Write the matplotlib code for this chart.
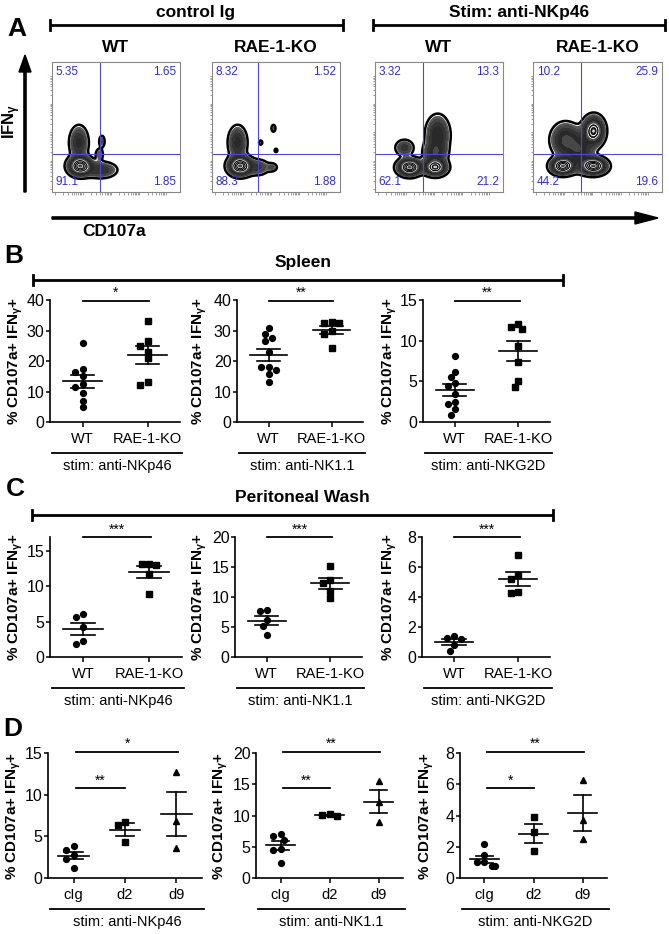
import numpy as np
import matplotlib
matplotlib.use('Agg')
import matplotlib.pyplot as plt
from matplotlib import rcParams

rcParams['font.family'] = ['Liberation Sans', 'DejaVu Sans']
rcParams['mathtext.fontset'] = 'custom'
rcParams['mathtext.rm'] = 'Liberation Sans:bold'
rcParams['mathtext.it'] = 'Liberation Sans:bold'
rcParams['mathtext.bf'] = 'Liberation Sans:bold'

W, H = 669, 934

#---------------------------
# Panel A: flow plots (quadrant %) and rough blob shapes of the populations
flow_titles = ['WT', 'RAE-1-KO', 'WT', 'RAE-1-KO']
flow_quads = [['5.35', '1.65', '91.1', '1.85'],
              ['8.32', '1.52', '88.3', '1.88'],
              ['3.32', '13.3', '62.1', '21.2'],
              ['10.2', '25.9', '44.2', '19.6']]
flow_gate_x = [0.377, 0.36, 0.377, 0.37]
flow_gate_y = 0.295
# (cx, cy, sx, sy, weight) in axis fraction
flow_blobs = [
    [(0.22, 0.20, 0.05, 0.04, 1.0), (0.21, 0.38, 0.04, 0.07, 0.35),
     (0.38, 0.17, 0.07, 0.035, 0.3), (0.39, 0.39, 0.015, 0.03, 0.14),
     (0.37, 0.29, 0.02, 0.03, 0.13)],
    [(0.22, 0.20, 0.05, 0.04, 1.0), (0.20, 0.38, 0.04, 0.07, 0.35),
     (0.36, 0.19, 0.05, 0.035, 0.22), (0.47, 0.19, 0.025, 0.02, 0.14),
     (0.48, 0.49, 0.012, 0.02, 0.12), (0.38, 0.38, 0.012, 0.015, 0.09),
     (0.50, 0.32, 0.01, 0.012, 0.09)],
    [(0.27, 0.19, 0.05, 0.035, 1.0), (0.47, 0.19, 0.05, 0.035, 0.8),
     (0.49, 0.44, 0.05, 0.08, 0.4), (0.47, 0.30, 0.05, 0.05, 0.35),
     (0.23, 0.34, 0.04, 0.035, 0.25)],
    [(0.23, 0.20, 0.05, 0.035, 0.9), (0.47, 0.20, 0.055, 0.035, 0.9),
     (0.47, 0.47, 0.045, 0.06, 0.75), (0.25, 0.40, 0.06, 0.07, 0.4),
     (0.36, 0.32, 0.06, 0.08, 0.35)],
]

# Panel B: spleen
b_groups = ['WT', 'RAE-1-KO']
b_stims = ['stim: anti-NKp46', 'stim: anti-NK1.1', 'stim: anti-NKG2D']
b_wt = [[26, 17.5, 16.5, 15, 12.5, 11.5, 9.5, 7, 5],
        [30.7, 29, 27.7, 26.5, 23, 17.9, 17.9, 17, 15.7, 13.2],
        [8.1, 6.1, 5.5, 4.8, 4.4, 3.4, 2.4, 2.2, 1.6, 0.9]]
b_ko = [[33, 26.5, 25, 23, 21, 13, 12.2],
        [32.5, 32.5, 32.8, 29.8, 29, 24.3],
        [11.7, 11.4, 12.0, 9.3, 7.4, 5.0, 4.3]]
b_ylim = [40, 40, 15]
b_yticks = [[0, 10, 20, 30, 40], [0, 10, 20, 30, 40], [0, 5, 10, 15]]
b_sig = ['*', '**', '**']

# Panel C: peritoneal wash
c_wt = [[6.1, 5.6, 4.3, 2.3, 1.8],
        [7.9, 7.6, 6.1, 5.2, 3.6],
        [1.26, 1.19, 1.4, 0.77, 0.42]]
c_ko = [[13.2, 13.2, 13.0, 11.8, 8.9],
        [15.1, 12.9, 12.4, 11.0, 9.9],
        [6.83, 5.46, 5.17, 4.29, 4.33]]
c_ylim = [17, 20, 8]
c_yticks = [[0, 5, 10, 15], [0, 5, 10, 15, 20], [0, 2, 4, 6, 8]]
c_sig = ['***', '***', '***']

# Panel D: time course
d_groups = ['cIg', 'd2', 'd9']
d_cig = [[3.8, 3.4, 2.8, 2.3, 1.2],
         [7.0, 6.8, 6.1, 4.6, 4.5, 2.4],
         [2.2, 1.5, 1.0, 1.0, 0.8, 0.75]]
d_d2 = [[6.7, 6.4, 4.3], [10.2, 9.9, 10.1], [3.88, 2.92, 1.72]]
d_d9 = [[12.7, 6.8, 3.6], [15.6, 12.1, 9.0], [6.29, 3.71, 2.47]]
d_ylim = [15, 20, 8]
d_yticks = [[0, 5, 10, 15], [0, 5, 10, 15, 20], [0, 2, 4, 6, 8]]
d_sig_near = ['**', '**', '*']
d_sig_far = ['*', '**', '**']

ylab = '% CD107a+ IFN$_{\\mathrm{\\gamma}}$+'

#---------------------------
fig = plt.figure(figsize=(W / 100., H / 100.), dpi=100)
ov = fig.add_axes([0, 0, 1, 1])
ov.set_xlim(0, W)
ov.set_ylim(H, 0)
ov.axis('off')


def box(l, t, r, b):
    return fig.add_axes([l / W, 1 - b / H, (r - l) / W, (b - t) / H])


def bracket(x0, x1, y, ends=True, lw=2.0):
    ov.plot([x0, x1], [y, y], color='k', lw=lw, solid_capstyle='butt')
    if ends:
        for x in (x0, x1):
            ov.plot([x, x], [y - 5, y + 5], color='k', lw=lw)


# ---- panel A ----
ov.text(17, 29, 'A', fontsize=19, fontweight='bold', ha='center', va='center')
bracket(50, 343, 25)
bracket(373, 665, 25)
ov.text(196, 12, 'control Ig', fontsize=12.5, fontweight='bold', ha='center', va='center')
ov.text(519, 12, 'Stim: anti-NKp46', fontsize=12.5, fontweight='bold', ha='center', va='center')
ov.arrow(25, 192, 0, -137, width=2.2, head_width=12, head_length=17,
         length_includes_head=True, color='k')
ov.arrow(52, 218, 606, 0, width=2.2, head_width=12, head_length=23,
         length_includes_head=True, color='k')
ov.text(12, 121, 'IFN$_{\\mathrm{\\gamma}}$', fontsize=12, fontweight='bold',
        rotation=90, ha='center', va='center')
ov.text(82, 232, 'CD107a', fontsize=12.5, fontweight='bold', ha='left', va='center')

flow_boxes = [(52, 62, 180, 192), (212, 62, 340, 192),
              (375, 62, 503, 192), (533, 62, 662, 192)]
gx, gy = np.meshgrid(np.linspace(0, 1, 400), np.linspace(0, 1, 400))
log_ticks = np.concatenate([d + np.log10(np.arange(1, 10)) * 0.22
                            for d in (0.02, 0.24, 0.46, 0.68)])
lev = [0.05, 0.08, 0.13, 0.2, 0.3, 0.42, 0.55, 0.68, 0.8, 0.9, 1.01]
fill_grey = [0.45, 0.35, 0.27, 0.2, 0.16, 0.28, 0.15, 0.28, 0.15, 0.28]
for k, (l, t, r, b) in enumerate(flow_boxes):
    ax = box(l, t, r, b)
    z = np.zeros_like(gx)
    for cx, cy, sx, sy, w in flow_blobs[k]:
        z += w * np.exp(-((gx - cx) ** 2 / (2 * sx ** 2) + (gy - cy) ** 2 / (2 * sy ** 2)))
    z = z / z.max()
    ax.contourf(gx, gy, z, levels=lev, colors=[str(g) for g in fill_grey])
    ax.contour(gx, gy, z, levels=[0.07], colors='white', linewidths=0.7)
    ax.contour(gx, gy, z, levels=[0.55, 0.7, 0.82, 0.92], colors='white', linewidths=0.7)
    ax.contour(gx, gy, z, levels=[0.62, 0.76, 0.87], colors='black', linewidths=0.7)
    ax.contour(gx, gy, z, levels=[0.05], colors='black', linewidths=1.8)
    ax.axvline(flow_gate_x[k], color='#4a4ad6', lw=0.8)
    ax.axhline(flow_gate_y, color='#4a4ad6', lw=0.8)
    ax.set_xlim(0, 1)
    ax.set_ylim(0, 1)
    q = flow_quads[k]
    qc = '#3030c8'
    ax.text(0.03, 0.97, q[0], transform=ax.transAxes, fontsize=8.5, color=qc, ha='left', va='top')
    ax.text(0.97, 0.97, q[1], transform=ax.transAxes, fontsize=8.5, color=qc, ha='right', va='top')
    ax.text(0.03, 0.03, q[2], transform=ax.transAxes, fontsize=8.5, color=qc, ha='left', va='bottom')
    ax.text(0.97, 0.03, q[3], transform=ax.transAxes, fontsize=8.5, color=qc, ha='right', va='bottom')
    ax.set_xticks(log_ticks)
    ax.set_yticks(log_ticks)
    ax.set_xticklabels([])
    ax.set_yticklabels([])
    ax.tick_params(length=1.8, width=0.5, color='#777777')
    for s in ax.spines.values():
        s.set_color('#888888')
        s.set_linewidth(0.8)
    ov.text((l + r) / 2., 48, flow_titles[k], fontsize=12.5, fontweight='bold',
            ha='center', va='center')


# ---- dot plots ----
def swarm(vals, ppy, ppx, d=6.0):
    vals = np.asarray(vals, float)
    offs = np.zeros(len(vals))
    placed = []
    for i in np.argsort(-vals):
        y = vals[i] * ppy
        for c in (0, -1, 1, -2, 2, -3, 3):
            x = c * d * 0.6
            if all((x - px) ** 2 + (y - py) ** 2 >= d ** 2 for px, py in placed):
                break
        placed.append((x, y))
        offs[i] = x / ppx
    return offs


def dot_panel(rect, groups, labels, markers, ylim, yticks, stim):
    l, t, r, b = rect
    ax = box(l, t, r, b)
    n = len(groups)
    ax.set_xlim(-0.5, n - 0.5)
    ax.set_ylim(0, ylim)
    ppy = (b - t) / float(ylim)
    ppx = (r - l) / float(n)
    for i, (vals, m) in enumerate(zip(groups, markers)):
        vals = np.asarray(vals, float)
        xs = i + swarm(vals, ppy, ppx)
        ax.plot(xs, vals, m, color='k', ms=4.2 if m != '^' else 4.0, ls='none', clip_on=False)
        mu = vals.mean()
        se = vals.std(ddof=1) / np.sqrt(len(vals))
        ax.plot([i - 0.3, i + 0.3], [mu, mu], color='k', lw=1.2)
        ax.plot([i - 0.18, i + 0.18], [mu + se, mu + se], color='k', lw=1.2)
        ax.plot([i - 0.18, i + 0.18], [mu - se, mu - se], color='k', lw=1.2)
        ax.plot([i, i], [mu - se, mu + se], color='k', lw=1.2)
    ax.set_xticks(range(n))
    ax.set_xticklabels(labels, fontsize=10.5)
    ax.set_yticks(yticks)
    ax.tick_params(axis='y', labelsize=11.5, length=3, width=1.1, pad=1)
    ax.tick_params(axis='x', length=3.5, width=1.1, pad=4)
    for s in ('top', 'right'):
        ax.spines[s].set_visible(False)
    for s in ('left', 'bottom'):
        ax.spines[s].set_linewidth(1.2)
    ov.plot([l + 2, r + 2], [b + 31, b + 31], color='k', lw=1.3)
    ov.text((l + r) / 2. + 2, b + 44, stim, fontsize=10.5, ha='center', va='center')
    return ax


def sig(ax, x0, x1, y, s):
    ax.plot([x0, x1], [y, y], color='k', lw=1.3, clip_on=False)
    ax.annotate(s, xy=((x0 + x1) / 2., y), xytext=(0, 0.5), textcoords='offset points',
                ha='center', va='bottom', fontsize=10, annotation_clip=False)


b_rects = [(50, 300, 180, 422), (237, 300, 363, 422), (423, 300, 550, 422)]
c_rects = [(50, 537, 182, 657), (235, 537, 362, 657), (422, 537, 550, 657)]
d_rects = [(48, 753, 202, 878), (256, 753, 403, 878), (460, 753, 607, 878)]
b_ylab_x = [16, 200, 390]
d_ylab_x = [14, 221, 427]

# ---- panel B ----
ov.text(14, 256, 'B', fontsize=19, fontweight='bold', ha='center', va='center')
bracket(33, 563, 280)
ov.text(303, 263, 'Spleen', fontsize=12.5, fontweight='bold', ha='center', va='center')
for k in range(3):
    ax = dot_panel(b_rects[k], [b_wt[k], b_ko[k]], b_groups, ['o', 's'],
                   b_ylim[k], b_yticks[k], b_stims[k])
    sig(ax, 0, 1.03, b_ylim[k] * 0.995, b_sig[k])
    l, t, r, b = b_rects[k]
    ov.text(b_ylab_x[k], (t + b) / 2., ylab, fontsize=11, fontweight='bold',
            rotation=90, ha='center', va='center')

# ---- panel C ----
ov.text(15, 489, 'C', fontsize=19, fontweight='bold', ha='center', va='center')
bracket(32, 553, 515)
ov.text(302, 498, 'Peritoneal Wash', fontsize=12.5, fontweight='bold', ha='center', va='center')
for k in range(3):
    ax = dot_panel(c_rects[k], [c_wt[k], c_ko[k]], b_groups, ['o', 's'],
                   c_ylim[k], c_yticks[k], b_stims[k])
    sig(ax, 0, 1.03, c_ylim[k], c_sig[k])
    l, t, r, b = c_rects[k]
    ov.text(b_ylab_x[k], (t + b) / 2., ylab, fontsize=11, fontweight='bold',
            rotation=90, ha='center', va='center')

# ---- panel D ----
ov.text(13, 729, 'D', fontsize=19, fontweight='bold', ha='center', va='center')
for k in range(3):
    ax = dot_panel(d_rects[k], [d_cig[k], d_d2[k], d_d9[k]], d_groups, ['o', 's', '^'],
                   d_ylim[k], d_yticks[k], b_stims[k])
    sig(ax, 0.05, 2.03, d_ylim[k] * 1.01, d_sig_far[k])
    sig(ax, 0.05, 1.0, d_ylim[k] * 0.72, d_sig_near[k])
    l, t, r, b = d_rects[k]
    ov.text(d_ylab_x[k], (t + b) / 2., ylab, fontsize=11, fontweight='bold',
            rotation=90, ha='center', va='center')

fig.savefig('out.png', dpi=100)
